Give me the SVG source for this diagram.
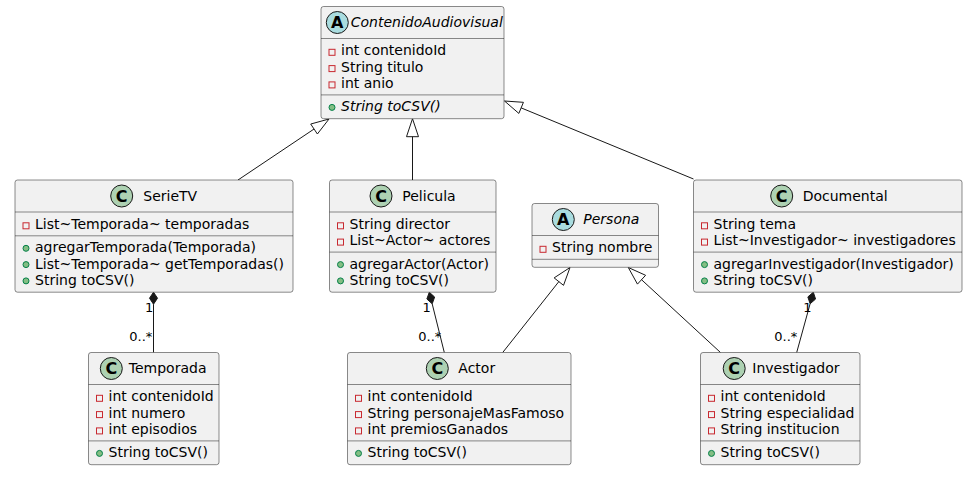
<svg xmlns="http://www.w3.org/2000/svg" width="974" height="477" viewBox="0 0 974 477">
<style>
.box{fill:#F1F1F1;stroke:#181818;stroke-width:0.5}
.sep{stroke:#181818;stroke-width:0.5}
.cc{fill:#ADD1B2;stroke:#181818;stroke-width:1}
.ca{fill:#A9DCDF;stroke:#181818;stroke-width:1}
.glyph{font-family:"DejaVu Sans",sans-serif;font-size:16px;font-weight:bold;fill:#000;text-anchor:middle}
.name{font-family:"DejaVu Sans",sans-serif;font-size:14px;fill:#000}
.it{font-style:italic}
.m{font-family:"DejaVu Sans",sans-serif;font-size:14px;fill:#000}
.priv{fill:none;stroke:#C82930;stroke-width:1}
.pub{fill:#84BE84;stroke:#038048;stroke-width:1}
.ln{stroke:#181818;stroke-width:1;fill:none}
.tri{fill:none;stroke:#181818;stroke-width:1}
.dia{fill:#181818;stroke:#181818;stroke-width:1}
.lbl{font-family:"DejaVu Sans",sans-serif;font-size:13px;fill:#000}
</style>
<rect width="974" height="477" fill="#FFFFFF"/>

<g id="connectors">
  <line class="ln" x1="238" y1="180" x2="314.05" y2="129.02"/>
  <polygon class="tri" points="329,119 317.39,134 310.71,124.04"/>
  <line class="ln" x1="412.5" y1="180" x2="412.5" y2="136.7"/>
  <polygon class="tri" points="412.5,118.7 418.5,136.7 406.5,136.7"/>
  <line class="ln" x1="693.5" y1="179" x2="521.14" y2="107.87"/>
  <polygon class="tri" points="504.5,101 518.85,113.42 523.43,102.32"/>
  <line class="ln" x1="502.7" y1="352.5" x2="558.83" y2="281.61"/>
  <polygon class="tri" points="570,267.5 563.53,285.33 554.13,277.89"/>
  <line class="ln" x1="720.5" y1="352.5" x2="641.53" y2="279.7"/>
  <polygon class="tri" points="628.3,267.5 637.46,284.11 645.6,275.29"/>
  <line class="ln" x1="153.5" y1="304.2" x2="153.5" y2="352.5"/>
  <polygon class="dia" points="153.5,292.2 149.5,298.2 153.5,304.2 157.5,298.2"/>
  <text class="lbl" x="145" y="311.7">1</text>
  <text class="lbl" x="129.3" y="340.5">0..*</text>
  <line class="ln" x1="432.2" y1="303.84" x2="444.3" y2="352.5"/>
  <polygon class="dia" points="429.3,292.2 426.87,298.99 432.2,303.84 434.63,297.05"/>
  <text class="lbl" x="422.5" y="311.7">1</text>
  <text class="lbl" x="418.3" y="340.5">0..*</text>
  <line class="ln" x1="810.12" y1="303.77" x2="796.7" y2="352.5"/>
  <polygon class="dia" points="813.3,292.2 807.85,296.93 810.12,303.77 815.57,299.05"/>
  <text class="lbl" x="803.3" y="311.7">1</text>
  <text class="lbl" x="774.3" y="340.5">0..*</text>
</g>

<g id="ContenidoAudiovisual">
  <rect class="box" x="321" y="6.5" width="183" height="112.2" rx="2.5" ry="2.5"/>
  <circle class="ca" cx="337.3" cy="22.5" r="11"/>
  <text class="glyph" x="337.3" y="28.2">A</text>
  <text class="name it" x="350.7" y="27.2">ContenidoAudiovisual</text>
  <line class="sep" x1="321" y1="38.5" x2="504" y2="38.5"/>
  <rect class="priv" x="329" y="49.3" width="6" height="6"/>
  <text class="m" x="341" y="55.3">int contenidoId</text>
  <rect class="priv" x="329" y="65.6" width="6" height="6"/>
  <text class="m" x="341" y="71.6">String titulo</text>
  <rect class="priv" x="329" y="81.9" width="6" height="6"/>
  <text class="m" x="341" y="87.9">int anio</text>
  <line class="sep" x1="321" y1="94.9" x2="504" y2="94.9"/>
  <circle class="pub" cx="332" cy="107.4" r="3"/>
  <text class="m it" x="341" y="111.4">String toCSV()</text>
</g>

<g id="SerieTV">
  <rect class="box" x="15" y="180" width="278" height="112.2" rx="2.5" ry="2.5"/>
  <circle class="cc" cx="121.7" cy="196" r="11"/>
  <text class="glyph" x="121.7" y="201.7">C</text>
  <text class="name" x="143.3" y="200.5">SerieTV</text>
  <line class="sep" x1="15" y1="212" x2="293" y2="212"/>
  <rect class="priv" x="23" y="222.8" width="6" height="6"/>
  <text class="m" x="35" y="228.8">List~Temporada~ temporadas</text>
  <line class="sep" x1="15" y1="235.8" x2="293" y2="235.8"/>
  <circle class="pub" cx="26" cy="248.3" r="3"/>
  <text class="m" x="35" y="252.3">agregarTemporada(Temporada)</text>
  <circle class="pub" cx="26" cy="264.6" r="3"/>
  <text class="m" x="35" y="268.6">List~Temporada~ getTemporadas()</text>
  <circle class="pub" cx="26" cy="280.9" r="3"/>
  <text class="m" x="35" y="284.9">String toCSV()</text>
</g>

<g id="Pelicula">
  <rect class="box" x="329.5" y="180" width="166.5" height="112.2" rx="2.5" ry="2.5"/>
  <circle class="cc" cx="381" cy="196" r="11"/>
  <text class="glyph" x="381" y="201.7">C</text>
  <text class="name" x="402.3" y="200.5">Pelicula</text>
  <line class="sep" x1="329.5" y1="212" x2="496" y2="212"/>
  <rect class="priv" x="337.5" y="222.8" width="6" height="6"/>
  <text class="m" x="349.5" y="228.8">String director</text>
  <rect class="priv" x="337.5" y="239.1" width="6" height="6"/>
  <text class="m" x="349.5" y="245.1">List~Actor~ actores</text>
  <line class="sep" x1="329.5" y1="252.1" x2="496" y2="252.1"/>
  <circle class="pub" cx="340.5" cy="264.6" r="3"/>
  <text class="m" x="349.5" y="268.6">agregarActor(Actor)</text>
  <circle class="pub" cx="340.5" cy="280.9" r="3"/>
  <text class="m" x="349.5" y="284.9">String toCSV()</text>
</g>

<g id="Documental">
  <rect class="box" x="693.5" y="180" width="268.5" height="112.2" rx="2.5" ry="2.5"/>
  <circle class="cc" cx="781.7" cy="196" r="11"/>
  <text class="glyph" x="781.7" y="201.7">C</text>
  <text class="name" x="802.7" y="200.5">Documental</text>
  <line class="sep" x1="693.5" y1="212" x2="962" y2="212"/>
  <rect class="priv" x="701.5" y="222.8" width="6" height="6"/>
  <text class="m" x="713.5" y="228.8">String tema</text>
  <rect class="priv" x="701.5" y="239.1" width="6" height="6"/>
  <text class="m" x="713.5" y="245.1">List~Investigador~ investigadores</text>
  <line class="sep" x1="693.5" y1="252.1" x2="962" y2="252.1"/>
  <circle class="pub" cx="704.5" cy="264.6" r="3"/>
  <text class="m" x="713.5" y="268.6">agregarInvestigador(Investigador)</text>
  <circle class="pub" cx="704.5" cy="280.9" r="3"/>
  <text class="m" x="713.5" y="284.9">String toCSV()</text>
</g>

<g id="Persona">
  <rect class="box" x="532" y="203.5" width="126.5" height="63.8" rx="2.5" ry="2.5"/>
  <circle class="ca" cx="563.3" cy="219.5" r="11"/>
  <text class="glyph" x="563.3" y="225.2">A</text>
  <text class="name it" x="583.3" y="224">Persona</text>
  <line class="sep" x1="532" y1="235.5" x2="658.5" y2="235.5"/>
  <rect class="priv" x="540" y="246.3" width="6" height="6"/>
  <text class="m" x="552" y="252.3">String nombre</text>
  <line class="sep" x1="532" y1="259.3" x2="658.5" y2="259.3"/>
</g>

<g id="Temporada">
  <rect class="box" x="88.5" y="352.5" width="130.5" height="112.2" rx="2.5" ry="2.5"/>
  <circle class="cc" cx="111.3" cy="368.5" r="11"/>
  <text class="glyph" x="111.3" y="374.2">C</text>
  <text class="name" x="128.8" y="373">Temporada</text>
  <line class="sep" x1="88.5" y1="384.5" x2="219" y2="384.5"/>
  <rect class="priv" x="96.5" y="395.3" width="6" height="6"/>
  <text class="m" x="108.5" y="401.3">int contenidoId</text>
  <rect class="priv" x="96.5" y="411.6" width="6" height="6"/>
  <text class="m" x="108.5" y="417.6">int numero</text>
  <rect class="priv" x="96.5" y="427.9" width="6" height="6"/>
  <text class="m" x="108.5" y="433.9">int episodios</text>
  <line class="sep" x1="88.5" y1="440.9" x2="219" y2="440.9"/>
  <circle class="pub" cx="99.5" cy="453.4" r="3"/>
  <text class="m" x="108.5" y="457.4">String toCSV()</text>
</g>

<g id="Actor">
  <rect class="box" x="347.5" y="352.5" width="223.5" height="112.2" rx="2.5" ry="2.5"/>
  <circle class="cc" cx="437.3" cy="368.5" r="11"/>
  <text class="glyph" x="437.3" y="374.2">C</text>
  <text class="name" x="458.3" y="373">Actor</text>
  <line class="sep" x1="347.5" y1="384.5" x2="571" y2="384.5"/>
  <rect class="priv" x="355.5" y="395.3" width="6" height="6"/>
  <text class="m" x="367.5" y="401.3">int contenidoId</text>
  <rect class="priv" x="355.5" y="411.6" width="6" height="6"/>
  <text class="m" x="367.5" y="417.6">String personajeMasFamoso</text>
  <rect class="priv" x="355.5" y="427.9" width="6" height="6"/>
  <text class="m" x="367.5" y="433.9">int premiosGanados</text>
  <line class="sep" x1="347.5" y1="440.9" x2="571" y2="440.9"/>
  <circle class="pub" cx="358.5" cy="453.4" r="3"/>
  <text class="m" x="367.5" y="457.4">String toCSV()</text>
</g>

<g id="Investigador">
  <rect class="box" x="700.5" y="352.5" width="159.5" height="112.2" rx="2.5" ry="2.5"/>
  <circle class="cc" cx="734.2" cy="368.5" r="11"/>
  <text class="glyph" x="734.2" y="374.2">C</text>
  <text class="name" x="752.3" y="373">Investigador</text>
  <line class="sep" x1="700.5" y1="384.5" x2="860" y2="384.5"/>
  <rect class="priv" x="708.5" y="395.3" width="6" height="6"/>
  <text class="m" x="720.5" y="401.3">int contenidoId</text>
  <rect class="priv" x="708.5" y="411.6" width="6" height="6"/>
  <text class="m" x="720.5" y="417.6">String especialidad</text>
  <rect class="priv" x="708.5" y="427.9" width="6" height="6"/>
  <text class="m" x="720.5" y="433.9">String institucion</text>
  <line class="sep" x1="700.5" y1="440.9" x2="860" y2="440.9"/>
  <circle class="pub" cx="711.5" cy="453.4" r="3"/>
  <text class="m" x="720.5" y="457.4">String toCSV()</text>
</g>
</svg>
